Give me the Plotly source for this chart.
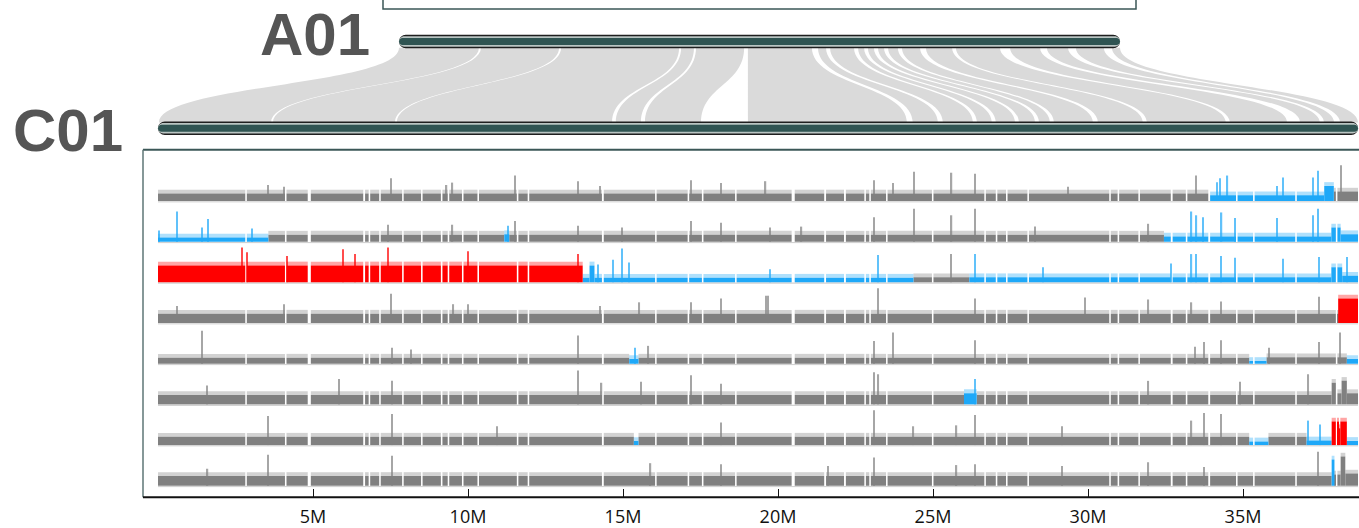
import plotly.graph_objects as go

# ---------------- figure geometry ----------------
W, H = 1359, 528
PX_PER_MB = 31.0          # horizontal scale of the C01 axis
C01_ORIGIN_PX = 158.0     # pixel column of C01 position 0
A01_PX = (399.0, 1120.0)  # pixel span of the A01 ideogram

# ---------------- chromosome data ----------------
C01_LEN = 38.71
A01_LEN = 28.6

tick_vals = [5, 10, 15, 20, 25, 30, 35]
tick_text = ["5M", "10M", "15M", "20M", "25M", "30M", "35M"]

# syntenic blocks: (A01 start, A01 end, C01 start, C01 end) in Mb
syn_a_start = [0.00, 3.25, 6.43, 11.19, 11.78, 13.84, 16.62, 17.10, 18.21, 18.60,
               19.00, 19.40, 19.95, 20.90, 22.09, 24.24, 25.70, 26.85, 28.28]
syn_a_end = [3.17, 6.35, 11.11, 11.70, 13.69, 16.38, 16.94, 18.05, 18.45, 18.84,
             19.24, 19.79, 20.67, 21.94, 23.84, 25.43, 26.54, 27.96, 28.60]
syn_c_start = [0.03, 3.71, 7.71, 14.77, 15.71, 19.03, 24.35, 25.32, 26.42, 27.03,
               27.77, 28.42, 28.90, 30.32, 31.90, 34.58, 36.84, 37.61, 38.13]
syn_c_end = [3.65, 7.65, 14.65, 15.58, 17.52, 24.16, 25.16, 26.29, 26.90, 27.65,
             28.29, 28.77, 30.16, 31.77, 34.45, 36.42, 37.48, 37.94, 38.71]

# assembly gaps on C01: (position, width) in Mb
gap_pos = [2.84, 4.12, 4.88, 6.65, 6.82, 7.16, 7.90, 8.51, 9.15, 9.37, 9.83, 10.33,
           11.60, 11.95, 14.35, 16.06, 17.11, 17.57, 18.64, 20.49, 21.52, 22.16,
           22.81, 22.97, 23.51, 24.99, 26.68, 27.05, 27.38, 28.07, 30.71, 30.98,
           31.65, 32.70, 33.18, 33.91, 34.80, 35.35, 36.71, 38.02]
gap_wid = [0.05, 0.05, 0.10, 0.06, 0.05, 0.05, 0.05, 0.05, 0.05, 0.05, 0.05, 0.05,
           0.05, 0.05, 0.06, 0.05, 0.05, 0.05, 0.05, 0.10, 0.06, 0.06,
           0.05, 0.05, 0.05, 0.05, 0.05, 0.05, 0.05, 0.05, 0.05, 0.05,
           0.05, 0.06, 0.05, 0.06, 0.05, 0.05, 0.05, 0.05]

# relative read depth per sample: segments (start, end, state, depth)
# state n = normal, l = loss (low depth), h = gain (high depth)
seg_s1 = [(0, 33.91, "n", 0.8), (33.91, 37.62, "l", 0.6), (37.62, 37.93, "l", 1.6),
          (37.93, 38.71, "n", 1.0)]
seg_s2 = [(0, 3.56, "l", 0.45), (3.56, 11.17, "n", 0.75), (11.17, 11.33, "l", 0.8),
          (11.33, 32.45, "n", 0.75), (32.45, 37.85, "l", 0.55), (37.85, 38.15, "l", 1.5),
          (38.15, 38.71, "l", 0.8)]
seg_s3 = [(0, 13.70, "h", 1.8), (13.70, 13.92, "l", 0.5), (13.92, 14.08, "l", 1.8),
          (14.08, 24.37, "l", 0.5), (24.37, 26.17, "n", 0.55), (26.17, 37.85, "l", 0.55),
          (37.85, 38.2, "l", 1.6), (38.2, 38.71, "l", 0.7)]
seg_s4 = [(0, 38.07, "n", 1.0), (38.07, 38.71, "h", 2.6)]
seg_s5 = [(0, 15.2, "n", 0.65), (15.2, 15.5, "l", 0.5), (15.5, 35.2, "n", 0.65),
          (35.2, 35.76, "l", 0.3), (35.76, 38.35, "n", 0.7), (38.35, 38.71, "l", 0.5)]
seg_s6 = [(0, 26.0, "n", 1.0), (26.0, 26.41, "l", 1.2), (26.41, 37.86, "n", 1.0),
          (37.86, 38.0, "n", 2.3), (38.0, 38.18, "n", 1.2), (38.18, 38.35, "n", 2.5),
          (38.35, 38.71, "n", 1.2)]
seg_s7 = [(0, 15.35, "n", 0.9), (15.35, 15.5, "l", 0.45), (15.5, 35.2, "n", 0.9),
          (35.2, 35.82, "l", 0.4), (35.82, 37.05, "n", 0.9), (37.05, 37.86, "l", 0.5),
          (37.86, 38.08, "h", 2.5), (38.08, 38.14, "h", 1.8), (38.14, 38.35, "h", 2.5),
          (38.35, 38.71, "l", 0.45)]
seg_s8 = [(0, 37.86, "n", 1.05), (37.86, 37.95, "l", 2.8), (37.95, 38.15, "n", 1.2),
          (38.15, 38.3, "n", 3.1), (38.3, 38.71, "n", 1.3)]

# isolated depth peaks per sample: (position Mb, depth)
pk_s1 = [(3.56, 1.7), (4.06, 1.5), (7.52, 2.4), (9.31, 1.7), (9.5, 1.95), (11.52, 2.7),
         (13.56, 2.1), (14.26, 1.6), (17.19, 2.2), (18.15, 1.9), (19.6, 2.1), (23.1, 2.2),
         (23.72, 1.9), (24.39, 3.1), (25.6, 3.0), (26.35, 2.9), (29.35, 1.5), (33.48, 2.7),
         (34.15, 2.0), (34.26, 2.4), (34.5, 2.7), (36.1, 1.6), (36.28, 2.5), (37.27, 2.5),
         (37.43, 3.2), (38.15, 3.8)]
pk_s2 = [(0.04, 1.2), (0.62, 3.2), (1.43, 1.5), (1.62, 2.4), (3.02, 1.4), (7.43, 1.8),
         (9.5, 1.8), (11.28, 1.7), (11.52, 2.2), (13.56, 1.7), (14.96, 1.5), (17.19, 2.2),
         (18.15, 2.0), (19.74, 1.5), (20.76, 1.6), (23.1, 2.6), (24.39, 3.5), (25.6, 2.8),
         (26.35, 3.5), (28.29, 1.6), (31.95, 1.9), (33.34, 3.2), (33.5, 2.8), (33.7, 2.6),
         (34.31, 3.1), (34.74, 2.5), (36.1, 2.5), (37.27, 2.8), (37.43, 3.5)]
pk_s3 = [(2.7, 3.7), (2.88, 3.2), (4.15, 2.8), (5.98, 3.5), (6.35, 3.0), (7.43, 3.7),
         (10.01, 3.3), (13.56, 3.0), (14.2, 1.9), (14.68, 2.4), (14.96, 3.6), (15.2, 2.1),
         (19.74, 1.4), (23.22, 2.9), (25.58, 3.0), (26.35, 3.0), (28.56, 1.6), (32.67, 2.0),
         (33.34, 3.0), (33.48, 3.0), (34.28, 2.8), (34.74, 2.6), (36.28, 2.5), (37.46, 2.7),
         (38.35, 2.7)]
pk_s4 = [(0.62, 1.8), (4.06, 2.0), (7.52, 3.1), (9.53, 2.0), (10.01, 2.0), (14.26, 1.8),
         (15.53, 2.2), (17.19, 2.2), (18.15, 2.6), (19.61, 2.9), (19.69, 2.9), (23.22, 3.7),
         (26.35, 2.6), (29.9, 2.7), (31.95, 2.5), (33.34, 2.2), (34.28, 2.3), (37.46, 2.8)]
pk_s5 = [(1.41, 3.5), (7.54, 1.7), (8.15, 1.5), (13.56, 3.0), (15.39, 1.7), (15.82, 1.9),
         (23.1, 2.4), (23.72, 3.3), (26.35, 2.5), (33.45, 1.8), (33.74, 2.3), (34.28, 2.5),
         (35.85, 1.7), (37.46, 2.3), (38.13, 3.3)]
pk_s6 = [(1.57, 2.0), (5.85, 2.7), (7.54, 2.5), (13.56, 3.6), (14.31, 2.3), (15.57, 2.4),
         (17.19, 3.1), (18.15, 2.2), (23.1, 3.4), (23.24, 3.2), (26.35, 2.7), (31.95, 2.5),
         (34.9, 2.4), (37.11, 3.2)]
pk_s7 = [(3.56, 3.1), (7.54, 3.3), (10.93, 2.0), (18.15, 2.4), (23.1, 3.7), (24.37, 2.0),
         (25.76, 2.1), (26.35, 3.2), (29.15, 2.0), (33.34, 2.6), (33.74, 3.4), (34.28, 3.3),
         (37.11, 2.6), (37.48, 2.2)]
pk_s8 = [(1.6, 1.8), (3.56, 3.3), (7.54, 3.2), (15.89, 2.4), (18.15, 2.3), (21.62, 2.1),
         (23.1, 3.0), (25.76, 2.2), (26.35, 2.3), (29.15, 2.1), (31.95, 2.5), (33.74, 2.0),
         (37.43, 3.6)]

samples = [(seg_s1, pk_s1), (seg_s2, pk_s2), (seg_s3, pk_s3), (seg_s4, pk_s4),
           (seg_s5, pk_s5), (seg_s6, pk_s6), (seg_s7, pk_s7), (seg_s8, pk_s8)]

STATE_COLOR = {"n": "#808080", "l": "#1ea8f8", "h": "#ff0000"}

# ---------------- layout helpers ----------------
TRACK_BOTTOM0 = 202.5
TRACK_STEP = 41.0
TRACK_HEIGHT = 38.0
DEPTH_MAX = 4.0
DEPTH_MIN = -0.15
FRINGE = 0.4             # ragged top band drawn above each depth segment


def a01_to_x(a):
    """Place an A01 coordinate on the shared C01 axis."""
    px = A01_PX[0] + a / A01_LEN * (A01_PX[1] - A01_PX[0])
    return (px - C01_ORIGIN_PX) / PX_PER_MB


def cut_by_gaps(s, e):
    pieces = [(s, e)]
    for g, w in zip(gap_pos, gap_wid):
        g0, g1 = g - w / 2, g + w / 2
        nxt = []
        for p0, p1 in pieces:
            if g1 <= p0 or g0 >= p1:
                nxt.append((p0, p1))
                continue
            if g0 > p0:
                nxt.append((p0, g0))
            if g1 < p1:
                nxt.append((g1, p1))
        pieces = nxt
    return pieces


def state_at(segs, x):
    for s, e, st, d in segs:
        if s <= x < e:
            return st
    return segs[-1][2]


def rounded_bar(x0, x1, yc, hh):
    r = hh / PX_PER_MB
    k = 0.5523
    return (f"M {x0 + r},{yc - hh} L {x1 - r},{yc - hh} "
            f"C {x1 - r + k * r},{yc - hh} {x1},{yc - k * hh} {x1},{yc} "
            f"C {x1},{yc + k * hh} {x1 - r + k * r},{yc + hh} {x1 - r},{yc + hh} "
            f"L {x0 + r},{yc + hh} "
            f"C {x0 + r - k * r},{yc + hh} {x0},{yc + k * hh} {x0},{yc} "
            f"C {x0},{yc - k * hh} {x0 + r - k * r},{yc - hh} {x0 + r},{yc - hh} Z")


fig = go.Figure()

# ---------------- depth tracks ----------------
layout_axes = {}
for i, (segs, peaks) in enumerate(samples):
    bottom = TRACK_BOTTOM0 + TRACK_STEP * i
    yname = f"yaxis{i + 2}"
    yref = f"y{i + 2}"
    d0 = (H - bottom - 1.5) / H
    d1 = (H - bottom + TRACK_HEIGHT) / H
    layout_axes[yname] = dict(domain=[d0, d1], range=[DEPTH_MIN, DEPTH_MAX],
                              visible=False, fixedrange=True, anchor="x")

    # light baseline under the track
    fig.add_trace(go.Scatter(x=[0, C01_LEN], y=[-0.1, -0.1], mode="lines",
                             line=dict(color="#d2d2d2", width=1.5),
                             xaxis="x", yaxis=yref, hoverinfo="skip"))

    for st, col in STATE_COLOR.items():
        xs, ws, ys = [], [], []
        for s, e, sst, d in segs:
            if sst != st:
                continue
            for p0, p1 in cut_by_gaps(s, e):
                xs.append((p0 + p1) / 2)
                ws.append(p1 - p0)
                ys.append(d)
        if xs:
            # ragged top of the depth profile
            fig.add_trace(go.Bar(x=xs, y=[FRINGE] * len(xs), width=ws, base=ys,
                                 marker_color=col, marker_line_width=0, opacity=0.35,
                                 xaxis="x", yaxis=yref, hoverinfo="skip"))
            fig.add_trace(go.Bar(x=xs, y=ys, width=ws, base=0, marker_color=col,
                                 marker_line_width=0, xaxis="x", yaxis=yref,
                                 hoverinfo="skip"))
        px_, pw, py = [], [], []
        for p, d in peaks:
            if state_at(segs, p) == st:
                px_.append(p)
                pw.append(0.04)
                py.append(d)
        if px_:
            fig.add_trace(go.Bar(x=px_, y=py, width=pw, base=0, marker_color=col,
                                 marker_line_width=0, opacity=0.7, xaxis="x",
                                 yaxis=yref, hoverinfo="skip"))

# ---------------- synteny ribbons ----------------
Y_A_BOTTOM = 48.0
Y_C_TOP = 123.5
YM = (Y_A_BOTTOM + Y_C_TOP) / 2
shapes = []
for a0, a1, c0, c1 in zip(syn_a_start, syn_a_end, syn_c_start, syn_c_end):
    xa0, xa1 = a01_to_x(a0), a01_to_x(a1)
    path = (f"M {xa0},{Y_A_BOTTOM} C {xa0},{YM} {c0},{YM} {c0},{Y_C_TOP} "
            f"L {c1},{Y_C_TOP} C {c1},{YM} {xa1},{YM} {xa1},{Y_A_BOTTOM} Z")
    shapes.append(dict(type="path", path=path, xref="x", yref="y",
                       fillcolor="#dadada", line=dict(width=0), layer="below"))

# ---------------- chromosome ideograms ----------------
def ideogram(x0, x1, yc):
    out = []
    for hh, col in [(6.8, "#1f1f1f"), (5.2, "#b9c4c2"), (3.6, "#2f5452")]:
        out.append(dict(type="path", path=rounded_bar(x0, x1, yc, hh), xref="x",
                        yref="y", fillcolor=col, line=dict(width=0), layer="above"))
    return out

shapes += ideogram(a01_to_x(0), a01_to_x(A01_LEN), 41.8)
shapes += ideogram(0, C01_LEN, 129.2)

# ---------------- frames ----------------
FRAME = "#3b5757"
shapes.append(dict(type="rect", xref="paper", yref="y", x0=383 / W, x1=1136 / W,
                   y0=-10, y1=9, line=dict(color=FRAME, width=1.5)))
shapes.append(dict(type="line", xref="paper", yref="y", x0=143 / W, x1=1.0,
                   y0=151, y1=151, line=dict(color=FRAME, width=2)))
shapes.append(dict(type="line", xref="paper", yref="y", x0=143 / W, x1=143 / W,
                   y0=151, y1=501, line=dict(color="#5e7676", width=1.5)))
shapes.append(dict(type="line", xref="paper", yref="y", x0=143 / W, x1=1.0,
                   y0=501, y1=501, line=dict(color="#111111", width=2)))

LABEL_FONT = dict(family="Liberation Sans, Arial", size=60, color="#555555")
annotations = [
    dict(text="<b>A01</b>", xref="paper", yref="y", x=372 / W, y=34.5, xanchor="right",
         yanchor="middle", height=48, valign="middle", showarrow=False, font=LABEL_FONT),
    dict(text="<b>C01</b>", xref="paper", yref="y", x=125 / W, y=130.5, xanchor="right",
         yanchor="middle", height=48, valign="middle", showarrow=False, font=LABEL_FONT),
]

x_lo = -C01_ORIGIN_PX / PX_PER_MB
x_hi = (W - C01_ORIGIN_PX) / PX_PER_MB

fig.update_layout(
    width=W, height=H, margin=dict(l=0, r=0, t=0, b=0),
    paper_bgcolor="white", plot_bgcolor="rgba(0,0,0,0)",
    showlegend=False, barmode="overlay",
    xaxis=dict(domain=[0, 1], range=[x_lo, x_hi], anchor="free", position=27 / H,
               showgrid=False, zeroline=False, showline=False,
               tickmode="array", tickvals=tick_vals, ticktext=tick_text,
               ticks="inside", ticklen=8, tickwidth=1.2, tickcolor="#111111",
               ticklabelstandoff=7,
               tickfont=dict(family="Open Sans", size=18, color="#111111"),
               fixedrange=True),
    yaxis=dict(domain=[0, 1], range=[H, 0], visible=False, fixedrange=True,
               anchor="x"),
    shapes=shapes, annotations=annotations,
    **layout_axes,
)

fig.write_html("out.html")
